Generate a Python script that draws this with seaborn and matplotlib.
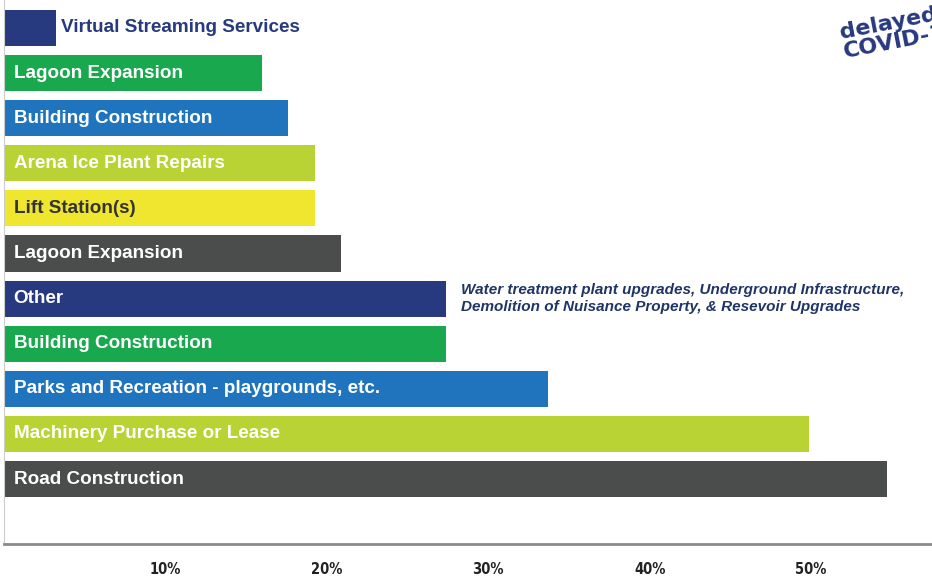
import matplotlib
matplotlib.use("Agg")
import matplotlib.pyplot as plt
import seaborn as sns
import pandas as pd

# --------------------------------------------
# Data (percent of respondents)
# --------------------------------------------
projects = [
    "Virtual Streaming Services",
    "Lagoon Expansion",
    "Building Construction",
    "Arena Ice Plant Repairs",
    "Lift Station(s)",
    "Lagoon Expansion",
    "Other",
    "Building Construction",
    "Parks and Recreation - playgrounds, etc.",
    "Machinery Purchase or Lease",
    "Road Construction",
]
shares = [3.2, 16.0, 17.6, 19.3, 19.3, 20.9, 27.4, 27.4, 33.7, 49.9, 54.7]
bar_colors = ["#27397f", "#1aa84f", "#1f74bd", "#b9d334", "#f1e62f", "#4b4c4c",
              "#27397f", "#1aa84f", "#1f74bd", "#b9d334", "#4b4c4c"]
text_colors = ["#27397f", "white", "white", "white", "#333333", "white",
               "white", "white", "white", "white", "white"]
x_ticks = [10, 20, 30, 40, 50]
other_note = ("Water treatment plant upgrades, Underground Infrastructure,\n"
              "Demolition of Nuisance Property, & Resevoir Upgrades")

df = pd.DataFrame({
    "key": [str(i) for i in range(len(projects))],
    "project": projects,
    "share": shares,
})

# --------------------------------------------
# Plot
# --------------------------------------------
sns.set_style("white")
plt.rcParams["font.family"] = ["Liberation Sans", "DejaVu Sans"]

fig = plt.figure(figsize=(9.32, 5.82), dpi=100)
ax = fig.add_axes([4 / 932, 38 / 582, 1 - 4 / 932, 1 - 38 / 582])

sns.barplot(data=df, x="share", y="key", hue="key", palette=bar_colors,
            legend=False, width=0.8, saturation=1, linewidth=0, ax=ax)

ax.set_xlim(0, 57.5)
ax.set_ylim(len(projects) - 1 + 1.44, -0.62)

for i, (name, val) in enumerate(zip(projects, shares)):
    if i == 0:
        ax.text(val + 0.35, i, name, color=text_colors[i], fontsize=13.6,
                fontweight="bold", va="center", ha="left")
    else:
        ax.text(0.6, i, name, color=text_colors[i], fontsize=13.6,
                fontweight="bold", va="center", ha="left")

ax.text(28.3, 6, other_note, color="#1f3566", fontsize=11,
        fontweight="bold", style="italic", va="center", ha="left",
        linespacing=1.3)

# axis styling
ax.set_xlabel("")
ax.set_ylabel("")
ax.set_yticks([])
ax.set_xticks(x_ticks)
ax.set_xticklabels([f"{t}%" for t in x_ticks], fontsize=10.5, fontweight="bold",
                   family="DejaVu Sans", fontstretch="condensed", color="#222222")
ax.tick_params(axis="x", direction="in", length=14, width=0.8, color="#bbbbbb",
               pad=13)
for side in ["top", "right"]:
    ax.spines[side].set_visible(False)
ax.spines["bottom"].set_color("#8a8a8a")
ax.spines["bottom"].set_linewidth(2)
ax.spines["left"].set_color("#cccccc")
ax.spines["left"].set_linewidth(0.8)

# cropped stamp in the corner
fig.text(0.899, 0.958, "delayed due to\nCOVID-19", color="#27397f",
         fontsize=16, fontweight="bold", family="DejaVu Sans",
         rotation=11, ha="left", va="center", linespacing=0.95)

fig.savefig("out.png", dpi=100)
plt.close(fig)
